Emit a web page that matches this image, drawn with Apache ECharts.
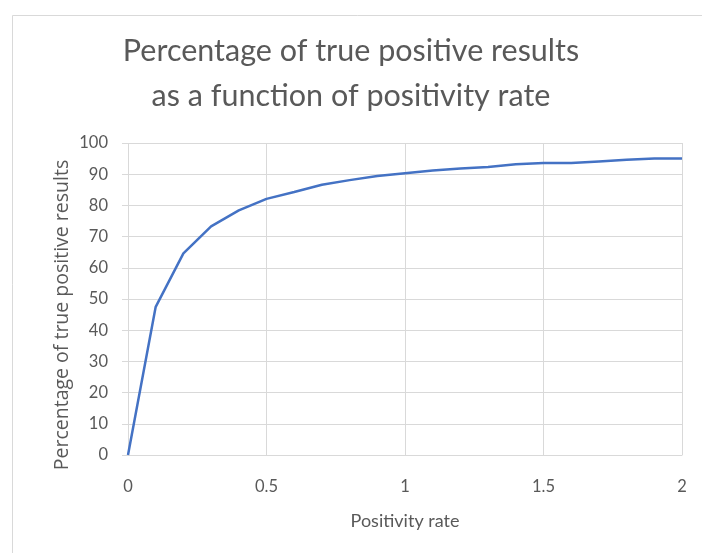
<!DOCTYPE html>
<html>
<head>
<meta charset="utf-8">
<script src="https://cdn.jsdelivr.net/npm/echarts@6/dist/echarts.min.js"></script>
<style>
  html, body { margin: 0; padding: 0; background: #fff; }
  #chart { width: 702px; height: 553px; }
</style>
</head>
<body>
<div id="chart"></div>
<script>
  // positivity rate (x) and percentage of true positive results (y)
  const positivityRate = [0, 0.1, 0.2, 0.3, 0.4, 0.5, 0.6, 0.7, 0.8, 0.9, 1.0,
    1.1, 1.2, 1.3, 1.4, 1.5, 1.6, 1.7, 1.8, 1.9, 2.0]
  const truePositivePct = [0, 47.5, 64.6, 73.3, 78.4, 82.1, 84.3, 86.6, 88.1, 89.4, 90.3,
    91.2, 91.8, 92.3, 93.2, 93.6, 93.6, 94.1, 94.6, 95.0, 95.0]
  const xTicks = [0, 0.5, 1, 1.5, 2]
  const yTicks = [0, 10, 20, 30, 40, 50, 60, 70, 80, 90, 100]

  const textColor = '#595959'
  const font = 'Lato, "Open Sans", sans-serif'

  const chart = echarts.init(document.getElementById('chart'))
  chart.setOption({
    backgroundColor: '#fff',
    animation: false,
    graphic: [{
      type: 'rect',
      left: 10,
      top: 13,
      shape: { width: 720, height: 560 },
      style: { fill: 'none', stroke: '#d9d9d9', lineWidth: 1 }
    }, {
      // y axis title, placed by hand like the original
      type: 'text',
      x: 62,
      y: 315,
      rotation: Math.PI / 2,
      style: {
        text: 'Percentage of true positive results',
        fill: textColor,
        font: 'normal 19.5px "Open Sans"',
        align: 'center',
        verticalAlign: 'middle'
      }
    }],
    title: {
      text: 'Percentage of true positive results\nas a function of positivity rate',
      left: 'center',
      top: 24,
      textStyle: {
        color: textColor,
        fontFamily: font,
        fontWeight: 'normal',
        fontSize: 30.5,
        lineHeight: 45
      }
    },
    grid: {
      left: 128,
      right: 20,
      top: 143,
      bottom: 98
    },
    xAxis: {
      type: 'value',
      min: 0,
      max: 2,
      interval: 0.5,
      name: 'Positivity rate',
      nameLocation: 'middle',
      nameGap: 57,
      nameTextStyle: { color: textColor, fontFamily: font, fontSize: 18 },
      axisLine: { show: true, lineStyle: { color: '#d9d9d9' } },
      axisTick: { show: false },
      axisLabel: {
        color: textColor,
        fontFamily: font,
        fontSize: 16.5,
        margin: 23,
        formatter: v => (xTicks.indexOf(v) >= 0 ? String(v) : '')
      },
      splitLine: { show: true, lineStyle: { color: '#d9d9d9' } }
    },
    yAxis: {
      type: 'value',
      min: 0,
      max: 100,
      interval: 10,
      axisLine: { show: false },
      axisTick: { show: true, inside: false, length: 6, lineStyle: { color: '#d9d9d9' } },
      axisLabel: {
        color: textColor,
        fontFamily: font,
        fontSize: 16.5,
        margin: 20,
        formatter: v => (yTicks.indexOf(v) >= 0 ? String(v) : '')
      },
      splitLine: { show: true, lineStyle: { color: '#d9d9d9' } }
    },
    series: [{
      type: 'line',
      data: positivityRate.map((x, i) => [x, truePositivePct[i]]),
      showSymbol: false,
      lineStyle: { color: '#4472c4', width: 2.5 },
      itemStyle: { color: '#4472c4' }
    }]
  })
</script>
</body>
</html>
